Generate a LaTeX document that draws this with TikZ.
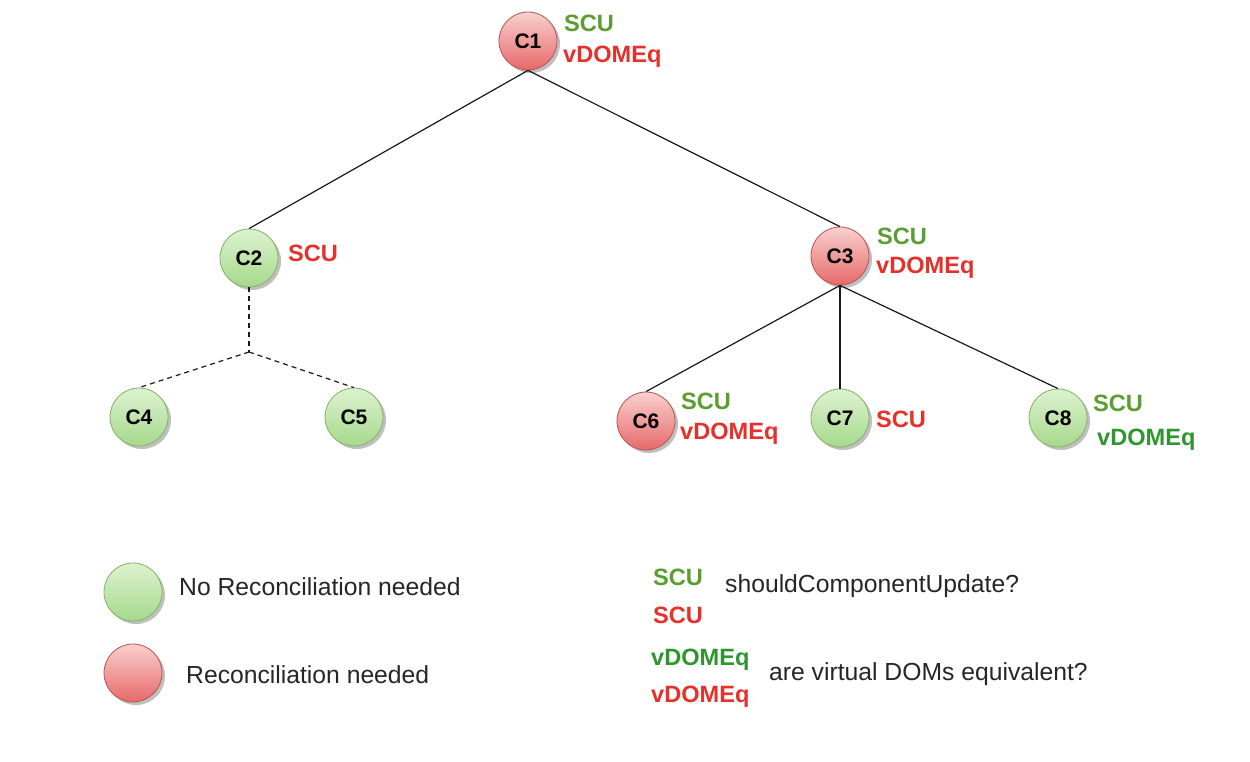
\documentclass[tikz,border=0pt]{standalone}
\usepackage{fontspec}
\setmainfont{Liberation Sans}
\usetikzlibrary{shadows}
\definecolor{gfillT}{HTML}{DDF2D0}
\definecolor{gfillB}{HTML}{A6D98C}
\definecolor{gline}{HTML}{82B366}
\definecolor{rfillT}{HTML}{F8D0CE}
\definecolor{rfillB}{HTML}{E7696A}
\definecolor{rline}{HTML}{B85450}
\definecolor{tgreen}{HTML}{5A9E2F}
\definecolor{tgreen2}{HTML}{2E962E}
\definecolor{tred}{HTML}{E8302A}
\tikzset{
  comp/.style={circle, minimum size=58pt, inner sep=0pt, line width=0.8pt,
    font=\fontsize{21}{23}\selectfont\bfseries,
    drop shadow={shadow xshift=3pt, shadow yshift=-3pt, opacity=0.25, fill=black}},
  gnode/.style={comp, draw=gline, top color=gfillT, bottom color=gfillB},
  rnode/.style={comp, draw=rline, top color=rfillT, bottom color=rfillB},
  lab/.style={anchor=west, inner sep=0pt, font=\fontsize{23.6}{25}\selectfont\bfseries},
  gl/.style={lab, text=tgreen},
  gl2/.style={lab, text=tgreen2},
  rl/.style={lab, text=tred},
  txt/.style={anchor=west, inner sep=0pt, font=\fontsize{24.7}{27}\selectfont, text=black!85},
  edge/.style={line width=1.2pt, black!90},
  dedge/.style={edge, dashed, dash pattern=on 5pt off 4pt}
}
\begin{document}
\begin{tikzpicture}[x=1pt,y=-1pt]
\useasboundingbox[fill=white] (0,0) rectangle (1250,762);
\coordinate (j) at (249,352);
\node[rnode] (c1) at (528,41) {C1};
\node[gnode] (c2) at (249,258) {C2};
\node[rnode] (c3) at (840,256) {C3};
\node[gnode] (c4) at (139,417) {C4};
\node[gnode] (c5) at (354,417) {C5};
\node[rnode] (c6) at (646,421) {C6};
\node[gnode] (c7) at (840,418) {C7};
\node[gnode] (c8) at (1058,418) {C8};
\draw[edge] (c1.south) -- (c2.north);
\draw[edge] (c1.south) -- (c3.north);
\draw[edge] (c3.south) -- (c6.north);
\draw[edge] (c3.south) -- (c7.north);
\draw[edge] (c3.south) -- (c8.north);
\draw[dedge] (c2.south) -- (j);
\draw[dedge] (j) -- (c4.north);
\draw[dedge] (j) -- (c5.north);
% labels
\node[gl] (l1a) at (564,23) {SCU};
\node[rl] (l1b) at (563,57) {vDOMEq};
\node[rl] (l2a) at (288,253) {SCU};
\node[gl] (l3a) at (877,236) {SCU};
\node[rl] (l3b) at (876,268) {vDOMEq};
\node[gl] (l6a) at (681,401) {SCU};
\node[rl] (l6b) at (680,434) {vDOMEq};
\node[rl] (l7a) at (876,419) {SCU};
\node[gl] (l8a) at (1093,403) {SCU};
\node[gl2] (l8b) at (1097,440) {vDOMEq};
% legend
\node[gnode] (lg) at (133,592) {};
\node[rnode] (lr) at (133,673) {};
\node[txt] (tg) at (179,587) {No Reconciliation needed};
\node[txt] (tr) at (186,675) {Reconciliation needed};
\node[gl] (k1) at (653,577) {SCU};
\node[rl] (k2) at (653,615) {SCU};
\node[txt] (k3) at (725,586) {shouldComponentUpdate?};
\node[gl2] (k4) at (651,660) {vDOMEq};
\node[rl] (k5) at (651,697) {vDOMEq};
\node[txt] (k6) at (769,674) {are virtual DOMs equivalent?};
\end{tikzpicture}
\end{document}
